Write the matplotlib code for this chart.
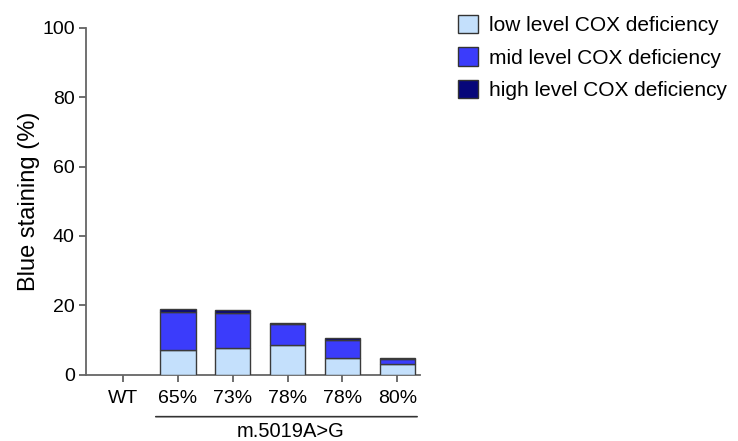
import matplotlib
matplotlib.use("Agg")
import matplotlib.pyplot as plt
import numpy as np
from matplotlib.patches import Patch

plt.rcParams['font.family'] = ['Liberation Sans', 'DejaVu Sans']

categories = ["WT", "65%", "73%", "78%", "78%", "80%"]
low_level = [0, 7.3, 7.9, 8.5, 4.9, 3.2]
mid_level = [0, 10.8, 9.8, 6.2, 5.2, 1.5]
high_level = [0, 1.0, 1.1, 0.4, 0.5, 0.1]
series_names = ["low level COX deficiency", "mid level COX deficiency", "high level COX deficiency"]
series_colors = ["#c4e0fc", "#3b3cfb", "#07077a"]
group_label = "m.5019A>G"

fig = plt.figure(figsize=(7.38, 4.41), dpi=100)
ax = fig.add_axes([0.1165, 0.1497, 0.4525, 0.7879])

x = np.arange(len(categories))
w = 0.65
bottom = np.zeros(len(categories))
for vals, col in zip([low_level, mid_level, high_level], series_colors):
    vals = np.array(vals)
    mask = vals > 0
    ax.bar(x[mask], vals[mask], width=w, bottom=bottom[mask], color=col,
           edgecolor="#3a3a3a", linewidth=1.0, zorder=3)
    bottom += vals

ax.set_xlim(-0.67, 5.41)
ax.set_ylim(0, 100)
ax.set_yticks([0, 20, 40, 60, 80, 100])
ax.set_xticks(x)
ax.set_xticklabels(categories)
ax.tick_params(axis='both', labelsize=14, color="#555555", width=1.2, length=5)
ax.tick_params(axis='x', pad=6)
ax.tick_params(axis='y', pad=3)
for s in ["top", "right"]:
    ax.spines[s].set_visible(False)
for s in ["left", "bottom"]:
    ax.spines[s].set_color("#666666")
    ax.spines[s].set_linewidth(1.3)
ax.set_ylabel("Blue staining (%)", fontsize=17)
ax.yaxis.set_label_coords(-0.138, 0.5)

# group bracket under the mutant tick labels
ax.annotate("", xy=(0.55, -0.12), xycoords=("data", "axes fraction"),
            xytext=(5.41, -0.12), textcoords=("data", "axes fraction"),
            arrowprops=dict(arrowstyle="-", color="#333333", lw=1.2))
ax.text(3.05, -0.162, group_label, transform=ax.get_xaxis_transform(),
        ha="center", va="center", fontsize=14.5)

handles = [Patch(facecolor=c, edgecolor="#333333", linewidth=1.0) for c in series_colors]
fig.legend(handles, series_names, loc="upper left", bbox_to_anchor=(458 / 738, 1 - 15 / 441),
           frameon=False, fontsize=15, handlelength=0.97, handleheight=0.97,
           handletextpad=0.5, labelspacing=0.58, borderaxespad=0, borderpad=0)

fig.savefig("out.png", dpi=100)
